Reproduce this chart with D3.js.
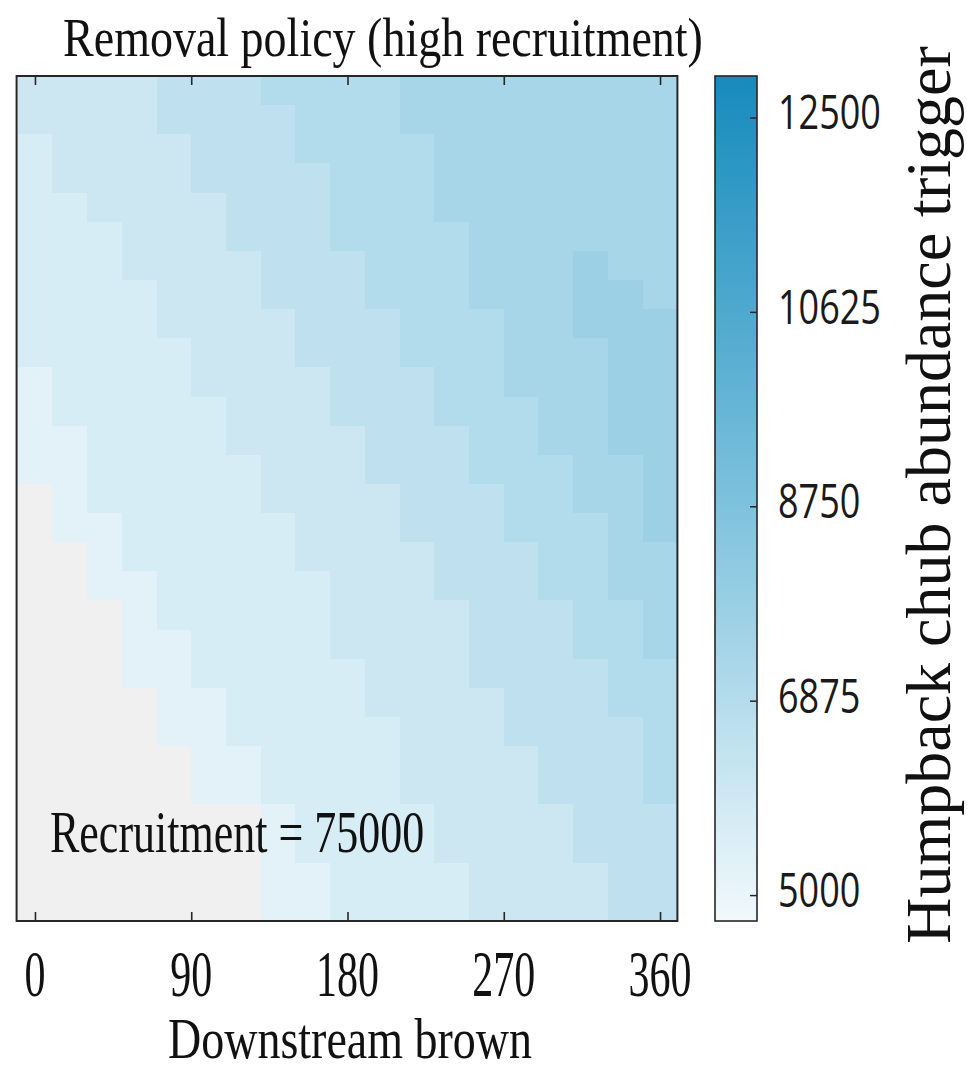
<!DOCTYPE html>
<html>
<head>
<meta charset="utf-8">
<script src="https://cdn.jsdelivr.net/npm/d3@7"></script>
<style>
  body { margin: 0; background: #ffffff; }
  svg { display: block; }
</style>
</head>
<body>
<svg id="chart" width="967" height="1073"></svg>
<script>
// ---------------- data ----------------
const titleText = "Removal policy (high recruitment)";
const xLabel = "Downstream brown";
const colorbarLabel = "Humpback chub abundance trigger";
const annotation = "Recruitment = 75000";

// column categories (downstream brown)
const xCategories = [0, 20, 40, 60, 80, 100, 120, 140, 160, 180, 200, 220, 240, 260, 280, 300, 320, 340, 360];
// row categories (unlabelled axis, top to bottom)
const rowIds = [1, 2, 3, 4, 5, 6, 7, 8, 9, 10, 11, 12, 13, 14, 15, 16, 17, 18, 19, 20, 21, 22, 23, 24, 25, 26, 27, 28, 29];
const xTickValues = [0, 90, 180, 270, 360];
const colorbarTicks = [5000, 6875, 8750, 10625, 12500];
const colorbarTickLabels = ["5000", "6875", "8750", "10625", "12500"];
const colorDomain = [4750, 12900];

// trigger values, one row per rowId, one column per xCategory (null = no value, grey)
const triggerRows = [
  [6050,6050,6050,6050,6500,6500,6500,6950,6950,6950,6950,7300,7300,7300,7300,7300,7300,7300,7300],
  [6050,6050,6050,6050,6500,6500,6500,6500,6950,6950,6950,7300,7300,7300,7300,7300,7300,7300,7300],
  [5650,6050,6050,6050,6050,6500,6500,6500,6950,6950,6950,6950,7300,7300,7300,7300,7300,7300,7300],
  [5650,6050,6050,6050,6050,6500,6500,6500,6500,6950,6950,6950,7300,7300,7300,7300,7300,7300,7300],
  [5650,5650,6050,6050,6050,6050,6500,6500,6500,6950,6950,6950,7300,7300,7300,7300,7300,7300,7300],
  [5650,5650,5650,6050,6050,6050,6500,6500,6500,6950,6950,6950,6950,7300,7300,7300,7300,7300,7300],
  [5650,5650,5650,6050,6050,6050,6050,6500,6500,6500,6950,6950,6950,7300,7300,7300,7750,7300,7300],
  [5650,5650,5650,5650,6050,6050,6050,6500,6500,6500,6950,6950,6950,7300,7300,7300,7750,7750,7300],
  [5650,5650,5650,5650,6050,6050,6050,6050,6500,6500,6500,6950,6950,6950,7300,7300,7750,7750,7750],
  [5650,5650,5650,5650,5650,6050,6050,6050,6500,6500,6500,6950,6950,6950,7300,7300,7300,7750,7750],
  [5250,5650,5650,5650,5650,6050,6050,6050,6050,6500,6500,6500,6950,6950,7300,7300,7300,7750,7750],
  [5250,5650,5650,5650,5650,5650,6050,6050,6050,6500,6500,6500,6950,6950,6950,7300,7300,7750,7750],
  [5250,5250,5650,5650,5650,5650,6050,6050,6050,6050,6500,6500,6500,6950,6950,7300,7300,7750,7750],
  [5250,5250,5650,5650,5650,5650,5650,6050,6050,6050,6500,6500,6500,6950,6950,6950,7300,7300,7750],
  [null,5250,5650,5650,5650,5650,5650,6050,6050,6050,6050,6500,6500,6500,6950,6950,7300,7300,7750],
  [null,5250,5250,5650,5650,5650,5650,5650,6050,6050,6050,6500,6500,6500,6950,6950,6950,7300,7750],
  [null,null,5250,5650,5650,5650,5650,5650,6050,6050,6050,6050,6500,6500,6500,6950,6950,7300,7300],
  [null,null,5250,5250,5650,5650,5650,5650,5650,6050,6050,6050,6500,6500,6500,6950,6950,7300,7300],
  [null,null,null,5250,5650,5650,5650,5650,5650,6050,6050,6050,6050,6500,6500,6500,6950,6950,7300],
  [null,null,null,5250,5250,5650,5650,5650,5650,6050,6050,6050,6050,6500,6500,6500,6950,6950,7300],
  [null,null,null,5250,5250,5650,5650,5650,5650,5650,6050,6050,6050,6500,6500,6500,6500,6950,6950],
  [null,null,null,null,5250,5250,5650,5650,5650,5650,6050,6050,6050,6050,6500,6500,6500,6950,6950],
  [null,null,null,null,5250,5250,5650,5650,5650,5650,5650,6050,6050,6050,6500,6500,6500,6500,6950],
  [null,null,null,null,null,5250,5250,5650,5650,5650,5650,6050,6050,6050,6050,6500,6500,6500,6950],
  [null,null,null,null,null,5250,5250,5650,5650,5650,5650,6050,6050,6050,6050,6500,6500,6500,6950],
  [null,null,null,null,null,null,null,5250,5650,5650,5650,5650,6050,6050,6050,6050,6500,6500,6500],
  [null,null,null,null,null,null,null,5250,5650,5650,5650,5650,6050,6050,6050,6050,6500,6500,6500],
  [null,null,null,null,null,null,null,5250,5250,5650,5650,5650,5650,6050,6050,6050,6050,6500,6500],
  [null,null,null,null,null,null,null,5250,5250,5650,5650,5650,5650,6050,6050,6050,6050,6500,6500]
];

// ---------------- drawing ----------------
const svg = d3.select("#chart");
svg.append("rect").attr("width", 967).attr("height", 1073).attr("fill", "#ffffff");

const plot = { left: 17.6, right: 677.4, top: 76, bottom: 921 };
const cellHalf = 10;
const xScale = d3.scaleLinear().domain([-10, 370]).range([plot.left, plot.right]);
const yScale = d3.scaleBand().domain(rowIds).range([plot.top, plot.bottom]);
const color = d3.scaleLinear()
  .domain([colorDomain[0], (colorDomain[0] + colorDomain[1]) / 2, colorDomain[1]])
  .range(["#f1f9fc", "#7cc1dd", "#168bbd"])
  .interpolate(d3.interpolateRgb);
const nanColor = "#f0f0f0";

const cells = [];
triggerRows.forEach((row, ri) => {
  row.forEach((v, ci) => cells.push({ row: rowIds[ri], x: xCategories[ci], v }));
});

svg.append("g").selectAll("rect").data(cells).join("rect")
  .attr("x", d => xScale(d.x - cellHalf))
  .attr("y", d => yScale(d.row))
  .attr("width", d => xScale(d.x + cellHalf) - xScale(d.x - cellHalf) + 0.4)
  .attr("height", yScale.bandwidth() + 0.4)
  .attr("fill", d => d.v == null ? nanColor : color(d.v))
  .attr("shape-rendering", "crispEdges");

// helper for stretched text
function label(x, y, str, opt) {
  return svg.append("text")
    .attr("transform", `translate(${x},${y}) rotate(${opt.rotate || 0}) scale(${opt.sx || 1},${opt.sy || 1})`)
    .attr("text-anchor", opt.anchor || "middle")
    .attr("font-family", opt.family || "'Liberation Serif', serif")
    .attr("font-size", opt.size)
    .attr("fill", opt.fill || "#111")
    .text(str);
}

// axis ticks (inward) top & bottom
const tickLen = 9;
const bottomAxis = d3.axisBottom(xScale).tickValues(xTickValues).tickSize(-tickLen).tickFormat("");
const topAxis = d3.axisTop(xScale).tickValues(xTickValues).tickSize(-tickLen).tickFormat("");
const gb = svg.append("g").attr("transform", `translate(0,${plot.bottom})`).call(bottomAxis);
const gt = svg.append("g").attr("transform", `translate(0,${plot.top})`).call(topAxis);
[gb, gt].forEach(g => {
  g.select(".domain").remove();
  g.selectAll(".tick line").attr("stroke", "#262626").attr("stroke-width", 1.6);
});

// frame
svg.append("rect")
  .attr("x", plot.left - 1).attr("y", plot.top)
  .attr("width", plot.right - plot.left + 1).attr("height", plot.bottom - plot.top)
  .attr("fill", "none").attr("stroke", "#262626").attr("stroke-width", 2);

// x tick labels
xTickValues.forEach(v => label(xScale(v), 996, String(v), { size: 42, sy: 1.55 }));

// x label
label(350, 1058, xLabel, { size: 46, sy: 1.25 });

// title
label(383, 56, titleText, { size: 46, sy: 1.2 });

// annotation
label(50, 852, annotation, { size: 44, sy: 1.35, anchor: "start" });

// ---------------- colorbar ----------------
const cb = { x: 715, w: 42, top: plot.top, bottom: plot.bottom };
const cbScale = d3.scaleLinear().domain(colorDomain).range([cb.bottom, cb.top]);
const defs = svg.append("defs");
const grad = defs.append("linearGradient").attr("id", "cbgrad")
  .attr("x1", 0).attr("y1", 1).attr("x2", 0).attr("y2", 0);
d3.range(0, 1.0001, 0.05).forEach(t => {
  grad.append("stop").attr("offset", t)
    .attr("stop-color", color(colorDomain[0] + t * (colorDomain[1] - colorDomain[0])));
});
svg.append("rect").attr("x", cb.x).attr("y", cb.top).attr("width", cb.w)
  .attr("height", cb.bottom - cb.top).attr("fill", "url(#cbgrad)");
const cbAxis = d3.axisRight(cbScale).tickValues(colorbarTicks).tickSize(-7).tickFormat("");
const gcb = svg.append("g").attr("transform", `translate(${cb.x + cb.w},0)`).call(cbAxis);
gcb.select(".domain").remove();
gcb.selectAll(".tick line").attr("stroke", "#262626").attr("stroke-width", 1.5);
svg.append("rect").attr("x", cb.x).attr("y", cb.top).attr("width", cb.w)
  .attr("height", cb.bottom - cb.top).attr("fill", "none")
  .attr("stroke", "#262626").attr("stroke-width", 1.6);

colorbarTicks.forEach((v, i) => {
  label(778, cbScale(v) + 12, colorbarTickLabels[i], {
    size: 36, sy: 1.3, anchor: "start", family: "'Open Sans', sans-serif", fill: "#1a1a1a"
  });
});

// colorbar label (rotated)
label(950, 495, colorbarLabel, { size: 64, rotate: -90 });
</script>
</body>
</html>
